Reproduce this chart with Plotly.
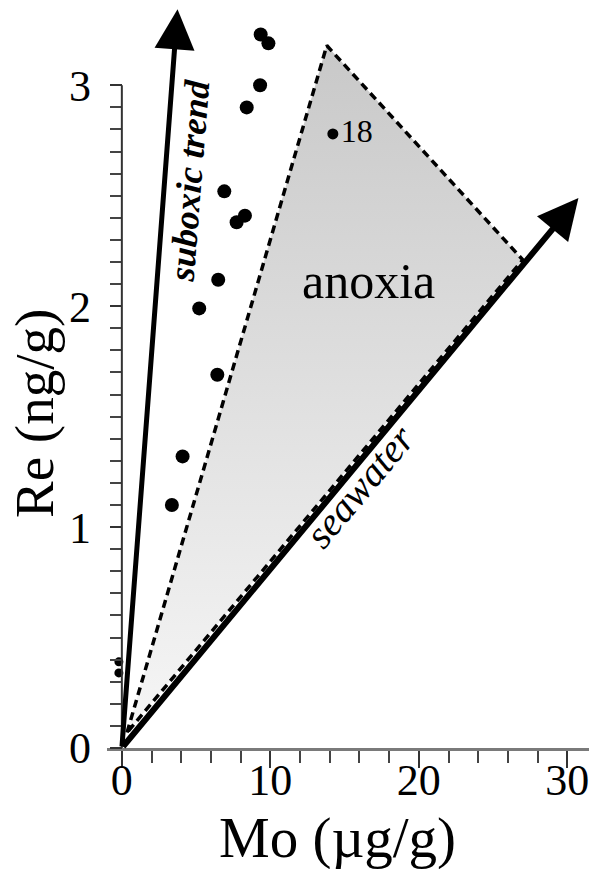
import plotly.graph_objects as go

# samples (Mo in ug/g, Re in ng/g)
mo_samples = [9.35, 9.87, 9.31, 8.41, 6.90, 8.29, 7.73, 6.49, 5.21, 6.43, 4.09, 3.37]
re_samples = [3.23, 3.19, 3.00, 2.90, 2.52, 2.41, 2.38, 2.12, 1.99, 1.69, 1.32, 1.10]
mo_axis_pts = [-0.2, -0.2]
re_axis_pts = [0.39, 0.34]
mo_18 = [14.21]
re_18 = [2.78]

# trend lines
suboxic_mo = [0, 3.75]
suboxic_re = [0, 3.344]
seawater_mo = [0, 30.75]
seawater_re = [0, 2.49]
anoxia_mo = [0.35, 13.8, 27.0, 0.35]
anoxia_re = [0.07, 3.18, 2.21, 0.07]

x_ticks = [0, 10, 20, 30]
y_ticks = [0, 1, 2, 3]
x_minor = [v for v in range(0, 33, 2)]
y_minor = [i / 10 for i in range(0, 31)]

SERIF = "Liberation Serif"

fig = go.Figure()

fig.add_trace(go.Scatter(
    x=anoxia_mo, y=anoxia_re, mode="none", fill="toself",
    fillgradient=dict(type="vertical", start=0, stop=3.2,
                      colorscale=[[0, "#f7f7f7"], [1, "#c8c8c8"]]),
    hoverinfo="skip",
))
fig.add_trace(go.Scatter(
    x=anoxia_mo, y=anoxia_re, mode="lines",
    line=dict(color="black", width=3.5, dash="8px,5px"),
    hoverinfo="skip",
))
fig.add_trace(go.Scatter(
    x=mo_axis_pts, y=re_axis_pts, mode="markers",
    marker=dict(color="black", size=9), cliponaxis=False,
))
fig.add_trace(go.Scatter(
    x=mo_samples, y=re_samples, mode="markers",
    marker=dict(color="black", size=14), cliponaxis=False,
))
fig.add_trace(go.Scatter(
    x=mo_18, y=re_18, mode="markers+text", text=["18"],
    textposition="middle right",
    textfont=dict(family=SERIF, size=32, color="black"),
    marker=dict(color="black", size=11),
))

# arrows
for xs, ys, w, s in [(suboxic_mo, suboxic_re, 5, 1.6), (seawater_mo, seawater_re, 6, 1.35)]:
    fig.add_annotation(
        x=xs[1], y=ys[1], ax=xs[0], ay=ys[0], xref="x", yref="y", axref="x", ayref="y",
        text="", showarrow=True, arrowhead=2, arrowwidth=w, arrowsize=s,
        arrowcolor="black", standoff=0,
    )

# y axis line only up to 3
fig.add_shape(type="line", x0=0, x1=0, y0=0, y1=3, xref="x", yref="y",
              line=dict(color="#333333", width=2))

fig.add_annotation(x=4.58, y=2.57, xref="x", yref="y", text="<b><i>suboxic trend</i></b>",
                   textangle=-85.5, showarrow=False,
                   font=dict(family=SERIF, size=36, color="black"))
fig.add_annotation(x=16.0, y=1.186, xref="x", yref="y", text="<i>seawater</i>",
                   textangle=-50, showarrow=False,
                   font=dict(family=SERIF, size=40, color="black"))
fig.add_annotation(x=16.58, y=2.113, xref="x", yref="y", text="anoxia",
                   showarrow=False, font=dict(family=SERIF, size=50, color="black"))

# axis titles
fig.add_annotation(x=-0.149, y=0.4527, xref="paper", yref="paper", text="Re (ng/g)",
                   textangle=-90, showarrow=False, xanchor="center", yanchor="middle",
                   font=dict(family=SERIF, size=55, color="black"))
fig.add_annotation(x=0.471, y=-0.1216, xref="paper", yref="paper", text="Mo (µg/g)",
                   showarrow=False, xanchor="center", yanchor="middle",
                   font=dict(family=SERIF, size=57, color="black"))

fig.update_xaxes(
    range=[-1, 32], tickvals=x_ticks, showgrid=False, zeroline=False,
    showline=True, linecolor="#7a7a7a", linewidth=3,
    ticks="outside", ticklen=17, tickwidth=2, tickcolor="#333333",
    minor=dict(tickvals=x_minor, ticks="outside", ticklen=12, tickwidth=2, tickcolor="#444444"),
    tickfont=dict(family=SERIF, size=44, color="black"), ticklabelstandoff=-26,
)
fig.update_yaxes(
    range=[0, 3.35], tickvals=y_ticks, showgrid=False, zeroline=False,
    showline=False, anchor="free", position=1 / 33,
    ticks="outside", ticklen=12, tickwidth=2, tickcolor="#333333",
    minor=dict(tickvals=y_minor, ticks="outside", ticklen=12, tickwidth=2, tickcolor="#444444"),
    tickfont=dict(family=SERIF, size=44, color="black"), ticklabelstandoff=10,
)
fig.update_layout(
    width=589, height=861,
    margin=dict(l=99, r=0, t=0, b=121),
    plot_bgcolor="white", paper_bgcolor="white",
    showlegend=False,
)

fig.write_html("out.html")
